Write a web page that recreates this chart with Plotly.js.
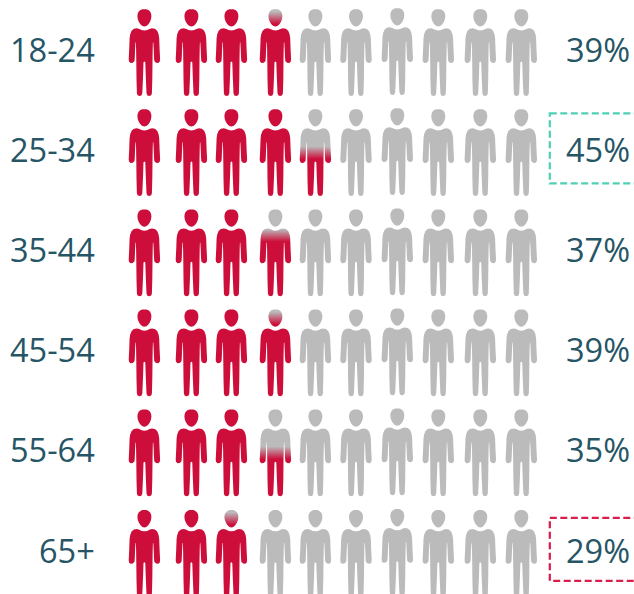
<!DOCTYPE html>
<html>
<head>
<meta charset="utf-8">
<script src="https://cdn.plot.ly/plotly-3.0.1.min.js"></script>
<style>html,body{margin:0;padding:0;background:#fff}#chart{width:634px;height:594px}</style>
</head>
<body>
<div id="chart"></div>
<script>
// Data
const ageGroups = ["18-24", "25-34", "35-44", "45-54", "55-64", "65+"];
const percentages = [39, 45, 37, 39, 35, 29];
const percentPerIcon = 10;

// Layout of the icon grid, in axis units
const columnCenters = [144.4, 191.4, 231.4, 275.4, 315.4, 356, 397.3, 438.3, 480.3, 521.3];
const columnShift = [0, 0, 0, 0, 0, 0, -1, 0, 0, 0];
const rowTops = [9.2, 109.2, 209.4, 309.4, 409.4, 510];
const labelRight = 97;
const valueCenter = 598;
const iconHeight = 86.8;
const blendHalf = 6.2;

// Icon outline: right half, mirrored in code (dx from centre, dy from top)
const headHalf = [[0,0],[2,0.1],[4,0.9],[5.7,2.4],[6.7,4.5],[7,7],[6.6,10],[5.5,12.8],[3.8,15.3],[2,16.9],[0,17.4]];
const bodyHalf = [[0,21.3],[2.8,20.9],[5,19.7],[7.5,19],[10.5,19.6],[12.8,21.5],[14.2,25],[14.8,29],[15.2,40],[15.7,50],[15.4,52.4],[13.9,53.8],[11.6,53.5],[9.9,51.8],[9.6,48],[9.3,40],[8.9,33],[8.5,33.3],[8.3,40],[8.1,52],[7.9,70],[7.5,84],[6.8,86],[5,86.8],[3,86.3],[2.1,84],[1.4,68],[0.9,53],[0,52.3]];

const red = "#cd0e3a";
const gray = "#bbbbbb";
const ink = "#265565";
const teal = "#4fcfb5";
const crimson = "#d81e4c";
const labelFont = "Open Sans, sans-serif";

function mirrored(half) {
  const back = half.slice(1, -1).reverse().map(p => [-p[0], p[1]]);
  return half.concat(back);
}
const head = mirrored(headHalf);
const body = mirrored(bodyHalf);

function iconTrace(cx, top, fraction) {
  const x = [], y = [];
  [head, body].forEach((poly, k) => {
    if (k) { x.push(null); y.push(null); }
    poly.concat([poly[0]]).forEach(p => { x.push(cx + p[0]); y.push(top + p[1]); });
  });
  const t = {
    type: "scatter", mode: "none", x, y, fill: "toself",
    hoverinfo: "skip", showlegend: false
  };
  if (fraction >= 1) t.fillcolor = red;
  else if (fraction <= 0) t.fillcolor = gray;
  else {
    const mid = 1 - fraction;
    const band = blendHalf / iconHeight;
    const stops = [[0, gray]];
    const a = Math.max(mid - band, 0.001), b = Math.min(mid + band, 0.999);
    stops.push([a, gray], [b, red], [1, red]);
    t.fillcolor = red;
    t.fillgradient = { type: "vertical", start: top, stop: top + iconHeight, colorscale: stops };
  }
  return t;
}

const traces = [];
ageGroups.forEach((g, r) => {
  columnCenters.forEach((cx, c) => {
    const f = Math.min(1, Math.max(0, percentages[r] / percentPerIcon - c));
    traces.push(iconTrace(cx, rowTops[r] + columnShift[c], f));
  });
});

const annotations = [];
ageGroups.forEach((g, r) => {
  const yc = rowTops[r] + 40;
  annotations.push({ xref: "x", yref: "y", x: labelRight, y: yc, text: g, showarrow: false,
    xanchor: "right", yanchor: "middle", font: { family: labelFont, size: 32.5, color: ink } });
  annotations.push({ xref: "x", yref: "y", x: valueCenter, y: yc, text: percentages[r] + "%", showarrow: false,
    xanchor: "center", yanchor: "middle", font: { family: labelFont, size: 32.5, color: ink } });
});

const boxes = [
  { top: 113.3, bottom: 183.3, color: teal },
  { top: 517.8, bottom: 580.8, color: crimson }
].map(b => ({
  type: "rect", xref: "x", yref: "y",
  x0: 549.8, x1: 660, y0: b.top, y1: b.bottom,
  line: { color: b.color, width: 2.25, dash: "7px,3.5px" }, fillcolor: "rgba(0,0,0,0)"
}));

Plotly.newPlot("chart", traces, {
  width: 634, height: 594,
  margin: { l: 0, r: 0, t: 0, b: 0 },
  paper_bgcolor: "#ffffff", plot_bgcolor: "#ffffff",
  xaxis: { range: [0, 634], visible: false, fixedrange: true },
  yaxis: { range: [594, 0], visible: false, fixedrange: true },
  annotations, shapes: boxes, showlegend: false
}, { displayModeBar: false, staticPlot: true });
</script>
</body>
</html>
